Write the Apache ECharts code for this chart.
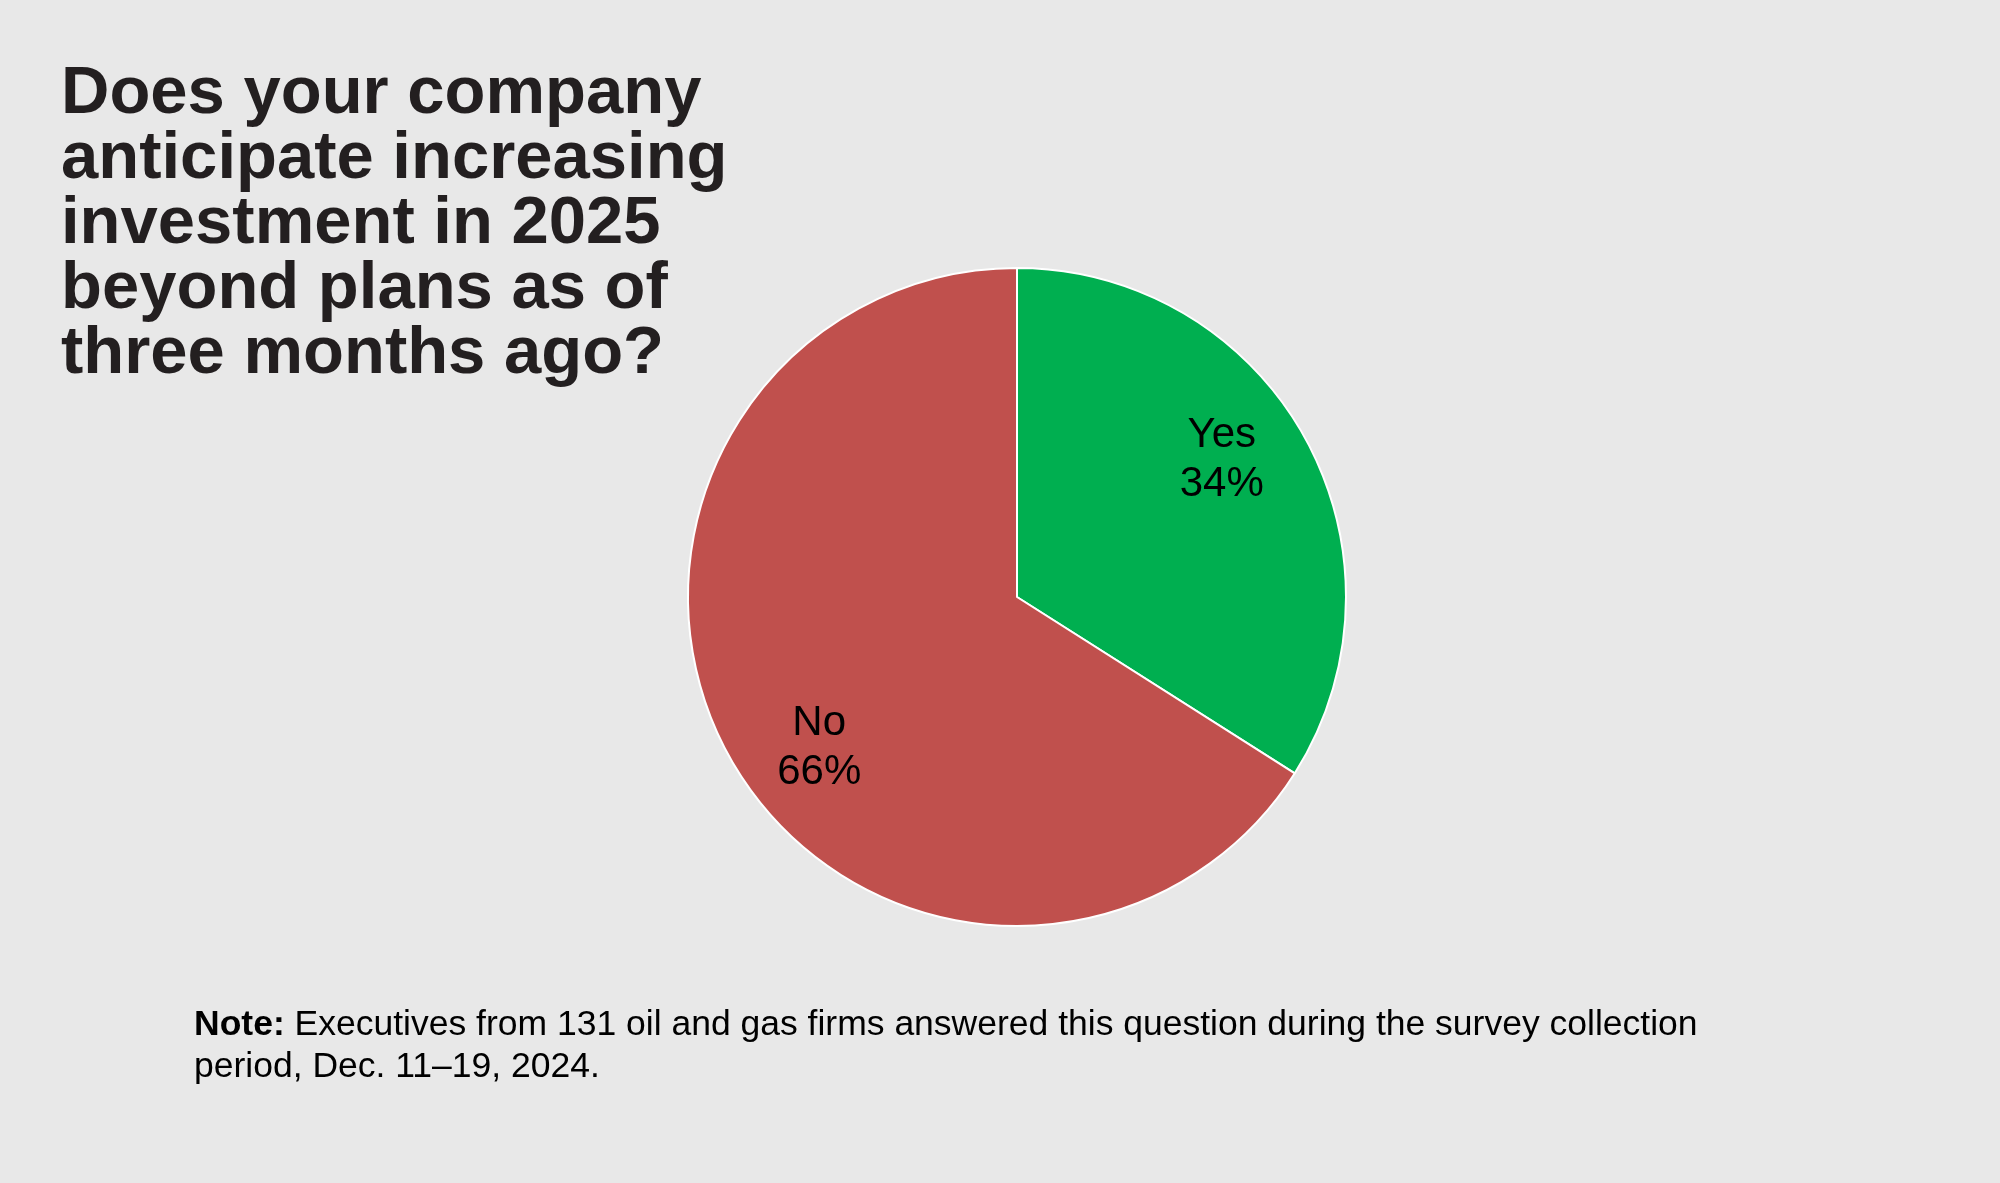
<!DOCTYPE html>
<html>
<head>
<meta charset="utf-8">
<script src="https://cdn.jsdelivr.net/npm/echarts@6/dist/echarts.min.js"></script>
<style>
html,body{margin:0;padding:0;background:#e8e8e8;}
#chart{width:2000px;height:1183px;}
</style>
</head>
<body>
<div id="chart"></div>
<script>
const categories = ['Yes', 'No'];
const values = [34, 66];
const titleText = 'Does your company\nanticipate increasing\ninvestment in 2025\nbeyond plans as of\nthree months ago?';
const noteBold = 'Note:';
const noteLines = ['Executives from 131 oil and gas firms answered this question during the survey collection', 'period, Dec. 11\u201319, 2024.'];

const colors = ['#00AF50', '#C0504D'];
const labelOffsets = [[58, -56], [-51, 70]];
const FONT = '"Liberation Sans", Arial, Helvetica, sans-serif';

const chart = echarts.init(document.getElementById('chart'));
chart.setOption({
  backgroundColor: '#e8e8e8',
  animation: false,
  title: [
    {
      text: titleText,
      left: 56,
      top: 57,
      textStyle: {fontFamily: FONT, fontSize: 67, fontWeight: 'bold', lineHeight: 65, color: '#231F20'}
    },
    {
      text: '{b|' + noteBold + '} ' + noteLines[0] + '\n' + noteLines[1],
      left: 189,
      top: 999,
      textStyle: {
        fontFamily: FONT, fontSize: 35.5, fontWeight: 'normal', lineHeight: 42, color: '#000',
        rich: {b: {fontFamily: FONT, fontSize: 35.5, fontWeight: 'bold', lineHeight: 42, color: '#000'}}
      }
    }
  ],
  series: [{
    type: 'pie',
    center: [1017, 597],
    radius: 329,
    startAngle: 90,
    clockwise: true,
    avoidLabelOverlap: false,
    itemStyle: {borderColor: '#ffffff', borderWidth: 2},
    label: {
      show: true,
      position: 'inside',
      formatter: p => p.name + '\n' + p.value + '%',
      fontFamily: FONT,
      fontSize: 42,
      lineHeight: 49,
      color: '#000'
    },
    labelLine: {show: false},
    emphasis: {disabled: true},
    data: categories.map((c, i) => ({
      name: c,
      value: values[i],
      itemStyle: {color: colors[i]},
      label: {offset: labelOffsets[i]}
    }))
  }]
});
</script>
</body>
</html>
